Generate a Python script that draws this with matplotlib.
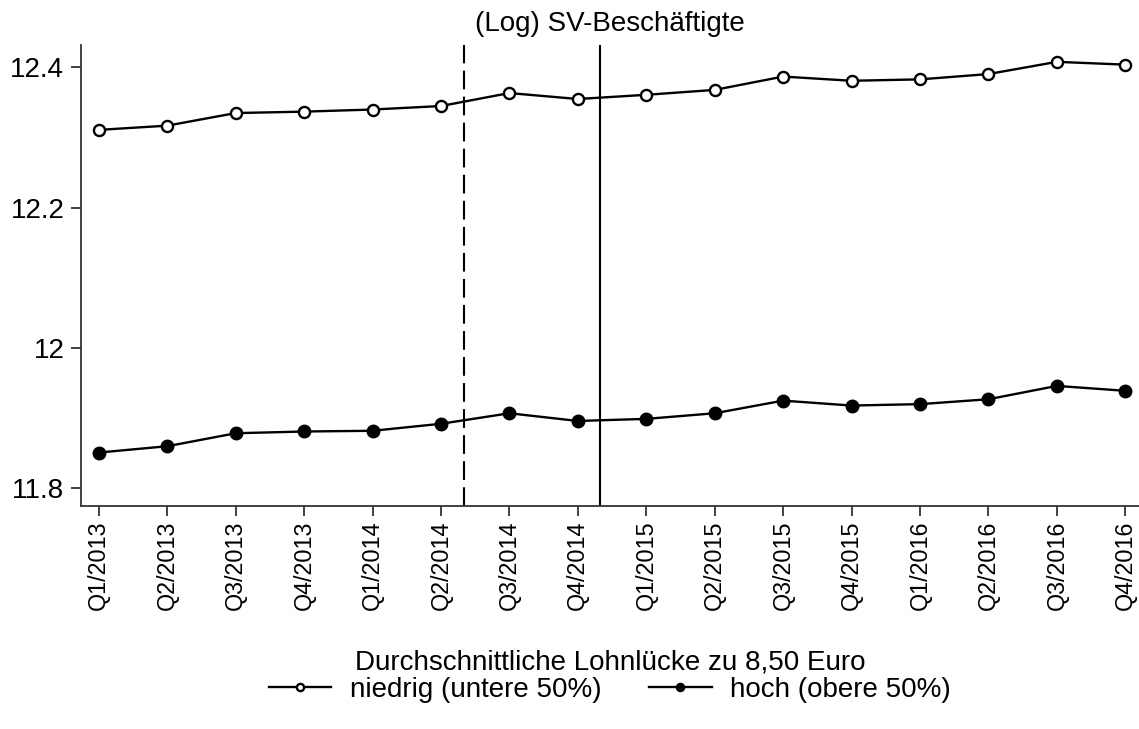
import matplotlib
matplotlib.use("Agg")
import matplotlib.pyplot as plt
import numpy as np

plt.rcParams['font.family'] = ['Liberation Sans', 'DejaVu Sans']

quarters = ["Q1/2013", "Q2/2013", "Q3/2013", "Q4/2013",
            "Q1/2014", "Q2/2014", "Q3/2014", "Q4/2014",
            "Q1/2015", "Q2/2015", "Q3/2015", "Q4/2015",
            "Q1/2016", "Q2/2016", "Q3/2016", "Q4/2016"]
niedrig = [12.311, 12.317, 12.335, 12.337, 12.340, 12.345, 12.3635, 12.355,
           12.361, 12.368, 12.387, 12.381, 12.383, 12.3906, 12.408, 12.404]
hoch = [11.851, 11.860, 11.8785, 11.881, 11.882, 11.892, 11.907, 11.896,
        11.899, 11.907, 11.925, 11.918, 11.920, 11.927, 11.946, 11.939]
yticks = [11.8, 12.0, 12.2, 12.4]
ytick_labels = ["11.8", "12", "12.2", "12.4"]
vline_dashed = 5.33
vline_solid = 7.33
title = "(Log) SV-Beschäftigte"
legend_title = "Durchschnittliche Lohnlücke zu 8,50 Euro"
labels = ["niedrig (untere 50%)", "hoch (obere 50%)"]

fig = plt.figure(figsize=(11.39, 7.29), dpi=100)
ax = fig.add_axes([81/1139, 1 - 505.5/729, (1139 - 81)/1139, (505.5 - 45)/729])

x = np.arange(len(quarters))
l1, = ax.plot(x, niedrig, color='black', lw=1.7, marker='o', markersize=8,
              markerfacecolor='white', markeredgecolor='black', markeredgewidth=1.7,
              label=labels[0], zorder=3)
l2, = ax.plot(x, hoch, color='black', lw=1.7, marker='o', markersize=9,
              markerfacecolor='black', markeredgecolor='black',
              label=labels[1], zorder=3)

ax.axvline(vline_dashed, color='black', lw=1.5, linestyle=(0, (9, 3.5)), zorder=2)
ax.axvline(vline_solid, color='black', lw=1.5, zorder=2)

ax.set_xlim(-0.26, 15.2)
ax.set_ylim(11.7755, 12.432)
ax.set_xticks(x)
ax.set_xticklabels(quarters, rotation=90, fontsize=16.8)
ax.set_yticks(yticks)
ax.set_yticklabels(ytick_labels, fontsize=20)
ax.tick_params(axis='both', length=7, width=1.3, color='#333333')
ax.tick_params(axis='y', pad=5)
ax.tick_params(axis='x', pad=4)

for s in ['top', 'right']:
    ax.spines[s].set_visible(False)
for s in ['left', 'bottom']:
    ax.spines[s].set_linewidth(1.3)
    ax.spines[s].set_color('#333333')

ax.set_title(title, fontsize=20, pad=10)

leg = fig.legend(handles=[l1, l2], labels=labels, loc='lower center',
                 bbox_to_anchor=(610/1139, 0.0), ncol=2, frameon=False,
                 fontsize=20, title=legend_title, title_fontsize=20,
                 handlelength=2.25, handletextpad=0.68, columnspacing=1.7,
                 labelspacing=0.05, markerscale=0.65, borderaxespad=0.55)

fig.savefig("out.png", dpi=100, facecolor='white')
